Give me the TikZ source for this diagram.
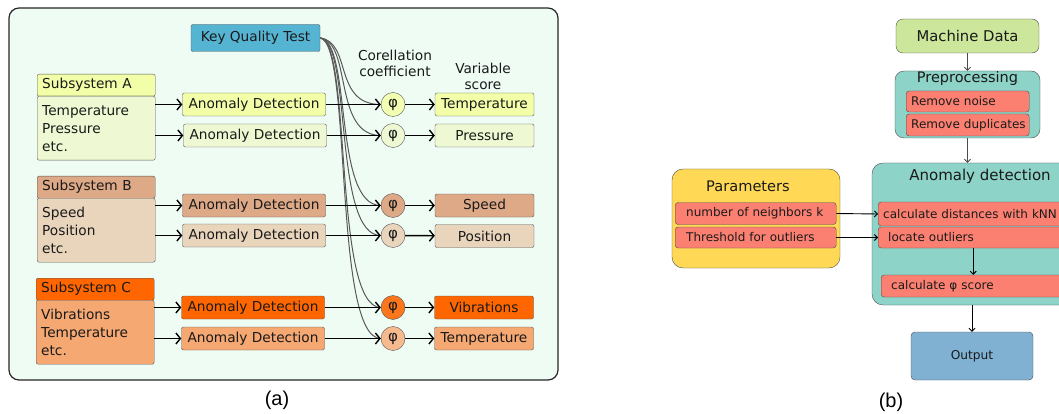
\documentclass[tikz,border=0pt]{standalone}
\usepackage{fontspec}
\setmainfont{DejaVu Sans}
\newfontfamily\labelfont{Liberation Sans}
\usetikzlibrary{arrows.meta}

\definecolor{mint}{HTML}{EFFCF4}
\definecolor{keyblue}{HTML}{56B4D3}
\definecolor{yellowA}{HTML}{F3FFA8}
\definecolor{yellowB}{HTML}{EEF9D3}
\definecolor{brownA}{HTML}{DEA987}
\definecolor{brownB}{HTML}{E9D4BC}
\definecolor{orangeA}{HTML}{FF6600}
\definecolor{orangeB}{HTML}{F5A872}
\definecolor{rim}{HTML}{555555}
\definecolor{ink}{HTML}{1A1A1A}
\definecolor{mdgreen}{HTML}{CCE69B}
\definecolor{tealbox}{HTML}{8DD3C7}
\definecolor{salmon}{HTML}{FB8072}
\definecolor{paramyel}{HTML}{FFD955}
\definecolor{outblue}{HTML}{80B1D3}

\tikzset{
  head/.style={draw=rim, rounded corners=2pt, anchor=north west, text width=108pt, inner xsep=5pt, inner ysep=0pt, minimum height=22pt, align=left, text=ink, font=\fontsize{13.7}{18}\selectfont},
  body/.style={head, minimum height=64pt},
  detect/.style={draw=rim, rounded corners=2pt, minimum width=143pt, minimum height=23pt, inner sep=0pt, text=ink, font=\fontsize{13.7}{18}\selectfont},
  score/.style={detect, minimum width=99pt},
  phi/.style={circle, draw=rim, minimum size=24pt, inner sep=0pt, text=ink, font=\fontsize{15}{18}\selectfont},
  fan/.style={draw=black!65, line width=1pt},
  feed/.style={line width=1.4pt, -{Straight Barb[length=4.5pt,width=11pt]}},
  stage/.style={draw=black!70, text=ink, inner sep=0pt},
  task/.style={draw=black!70, fill=salmon, rounded corners=3pt, anchor=west, inner ysep=0pt, align=left, text=ink, font=\fontsize{12}{14}\selectfont},
  flow/.style={line width=0.9pt, -{Straight Barb[length=3pt,width=6pt]}},
  caption/.style={inner sep=0pt, font=\labelfont\fontsize{20}{24}\selectfont},
}

\begin{document}
\begin{tikzpicture}[x=1pt,y=-1pt]
\clip (0,0) rectangle (1059,414);
\draw[draw=black!85, line width=1.2pt, fill=mint, rounded corners=10pt] (9,8) rectangle (558,380);

\node[detect, fill=keyblue, minimum width=129pt, minimum height=27pt] (kqt) at (255.5,38) {Key Quality Test};
\node[align=center, text=ink, font=\fontsize{13.7}{16}\selectfont] (corrLabel) at (395,63) {Corellation\\coefficient};
\node[align=center, text=ink, font=\fontsize{13.7}{16}\selectfont] (scoreLabel) at (483,76) {Variable\\score};

\node[head, fill=yellowA] (subA) at (37,74) {Subsystem A};
\node[body, fill=yellowB] (bodyA) at (37,96) {Temperature\\Pressure\\etc.};
\node[head, fill=brownA] (subB) at (37,176) {Subsystem B};
\node[body, fill=brownB] (bodyB) at (37,198) {Speed\\Position\\etc.};
\node[head, fill=orangeA] (subC) at (36,278) {Subsystem C};
\node[body, fill=orangeB] (bodyC) at (36,300) {Vibrations\\Temperature\\etc.};

\node[detect, fill=yellowA] (adA1) at (254,104.5) {Anomaly Detection};
\node[detect, fill=yellowB] (adA2) at (255,135.5) {Anomaly Detection};
\node[detect, fill=brownA] (adB1) at (254,205.5) {Anomaly Detection};
\node[detect, fill=brownB] (adB2) at (254,235.5) {Anomaly Detection};
\node[detect, fill=orangeA] (adC1) at (253,307.5) {Anomaly Detection};
\node[detect, fill=orangeB] (adC2) at (253,338.5) {Anomaly Detection};

\node[phi, fill=yellowA!80!yellowB] (phiA1) at (393,104.5) {φ};
\node[phi, fill=yellowB] (phiA2) at (393,135.5) {φ};
\node[phi, fill=brownA] (phiB1) at (393,205.5) {φ};
\node[phi, fill=brownB] (phiB2) at (393,235.5) {φ};
\node[phi, fill=orangeA!75!orangeB] (phiC1) at (393,307.5) {φ};
\node[phi, fill=orangeB!80!white] (phiC2) at (393,338.5) {φ};

\node[score, fill=yellowA] (scA1) at (484.5,104.5) {Temperature};
\node[score, fill=yellowB] (scA2) at (484.5,135.5) {Pressure};
\node[score, fill=brownA] (scB1) at (484.5,205.5) {Speed};
\node[score, fill=brownB] (scB2) at (484.5,236) {Position};
\node[score, fill=orangeA] (scC1) at (484,307.5) {Vibrations};
\node[score, fill=orangeB] (scC2) at (484,338.5) {Temperature};

\draw[fan] (kqt.east) .. controls +(32,4) and +(-48,0) .. (phiA1.west);
\draw[fan] (kqt.east) .. controls +(32,4) and +(-48,0) .. (phiA2.west);
\draw[fan] (kqt.east) .. controls +(32,4) and +(-48,0) .. (phiB1.west);
\draw[fan] (kqt.east) .. controls +(32,4) and +(-48,0) .. (phiB2.west);
\draw[fan] (kqt.east) .. controls +(32,4) and +(-48,0) .. (phiC1.west);
\draw[fan] (kqt.east) .. controls +(32,4) and +(-48,0) .. (phiC2.west);

\draw[feed] (bodyA.east |- adA1.west) -- (adA1.west);
\draw[feed] (bodyA.east |- adA2.west) -- (adA2.west);
\draw[feed] (bodyB.east |- adB1.west) -- (adB1.west);
\draw[feed] (bodyB.east |- adB2.west) -- (adB2.west);
\draw[feed] (bodyC.east |- adC1.west) -- (adC1.west);
\draw[feed] (bodyC.east |- adC2.west) -- (adC2.west);
\draw[feed] (adA1.east) -- (phiA1.west);
\draw[feed] (adA2.east) -- (phiA2.west);
\draw[feed] (adB1.east) -- (phiB1.west);
\draw[feed] (adB2.east) -- (phiB2.west);
\draw[feed] (adC1.east) -- (phiC1.west);
\draw[feed] (adC2.east) -- (phiC2.west);
\draw[feed] (phiA1) -- (scA1);
\draw[feed] (phiA2) -- (scA2);
\draw[feed] (phiB1) -- (scB1);
\draw[feed] (phiB2) -- (scB2);
\draw[feed] (phiC1) -- (scC1);
\draw[feed] (phiC2) -- (scC2);

\node[caption] (capA) at (277,400) {(a)};

\node[stage, fill=mdgreen, rounded corners=7pt, minimum width=143pt, minimum height=34pt, font=\fontsize{14.8}{17}\selectfont] (md) at (967.5,36) {Machine Data};
\node[stage, fill=tealbox, rounded corners=9pt, minimum width=145pt, minimum height=67pt] (pre) at (967.5,104.5) {};
\node[text=ink, inner sep=0pt, font=\fontsize{14.5}{17}\selectfont] (preTitle) at (967.5,79) {Preprocessing};
\node[task, text width=113pt, inner xsep=5pt, minimum height=21pt] (noise) at (906,101.5) {\mbox{Remove noise}};
\node[task, text width=113pt, inner xsep=5pt, minimum height=22pt] (dupl) at (906,125) {\mbox{Remove duplicates}};

\node[stage, fill=paramyel, rounded corners=11pt, minimum width=168pt, minimum height=99pt] (params) at (756,218.5) {};
\node[text=ink, inner sep=0pt, font=\fontsize{14.6}{17}\selectfont] (parTitle) at (748,186) {Parameters};
\node[task, text width=139pt, inner xsep=11pt, minimum height=22pt] (nk) at (675,213.5) {number of neighbors k};
\node[task, text width=139pt, inner xsep=11pt, minimum height=21pt] (thr) at (675,237.5) {Threshold for outliers};

\node[stage, fill=tealbox, rounded corners=11pt, minimum width=202pt, minimum height=142pt] (adbox) at (973,234) {};
\node[text=ink, inner sep=0pt, font=\fontsize{15}{18}\selectfont] (adTitle) at (980,176) {Anomaly detection};
\node[task, text width=180pt, inner xsep=5pt, minimum height=24pt] (dist) at (878,214) {calculate distances with kNN};
\node[task, text width=170pt, inner xsep=10pt, minimum height=21pt] (loc) at (878,237.5) {locate outliers};
\node[task, text width=167pt, inner xsep=10pt, minimum height=22pt] (phisc) at (881,286) {calculate φ score};

\node[stage, fill=outblue, rounded corners=4pt, minimum width=122pt, minimum height=48pt, font=\fontsize{12.2}{14}\selectfont] (out) at (972,356) {Output};

\draw[flow, draw=black!70] (md.south) -- (pre.north);
\draw[flow, draw=black!70] (pre.south) -- (pre.south |- adbox.north);
\draw[flow] (nk.east) -- (dist.west);
\draw[flow] (thr.east) -- (loc.west);
\draw[flow] (loc.south) -- (loc.south |- phisc.north);
\draw[flow] (adbox.south -| out.north) -- (out.north);

\node[caption] (capB) at (891,402) {(b)};
\end{tikzpicture}
\end{document}
